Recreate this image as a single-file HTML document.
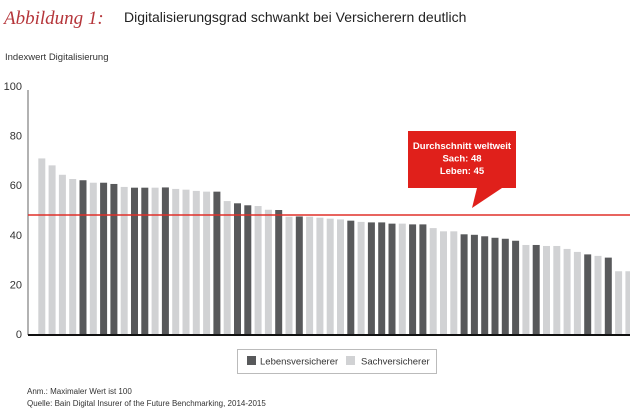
<!DOCTYPE html>
<html><head><meta charset="utf-8"><style>
body{margin:0;background:#fff;width:630px;height:412px;overflow:hidden}
svg{display:block;font-family:"Liberation Sans",sans-serif}
</style></head><body>
<svg id="chart" width="630" height="412">
<text x="4" y="24" font-family="Liberation Serif, serif" font-style="italic" font-size="19" fill="#b5353a">Abbildung 1:</text>
<text x="124" y="22" font-size="14" fill="#222">Digitalisierungsgrad schwankt bei Versicherern deutlich</text>
<text x="5" y="60" font-size="9.5" fill="#333">Indexwert Digitalisierung</text>
<g id="yaxis"></g>
<g id="bars"></g>
<line x1="28" y1="90" x2="28" y2="335" stroke="#999" stroke-width="1.5"/>
<line x1="28" y1="335" x2="630" y2="335" stroke="#111" stroke-width="2"/>
<g id="avg"></g>
<g>
<rect x="237.5" y="349.5" width="199" height="24" fill="#fff" stroke="#bbb"/>
<rect x="247" y="356" width="9" height="9" fill="#58595b"/>
<text x="260" y="364.5" font-size="9.5" fill="#333">Lebensversicherer</text>
<rect x="346" y="356" width="9" height="9" fill="#d1d2d4"/>
<text x="361" y="364.5" font-size="9.5" fill="#333">Sachversicherer</text>
</g>
<text x="27" y="394" font-size="8" fill="#333">Anm.: Maximaler Wert ist 100</text>
<text x="27" y="406" font-size="8" fill="#333">Quelle: Bain Digital Insurer of the Future Benchmarking, 2014-2015</text>
</svg>
<script>
const values=[70.8,68,64.2,62.5,62,61,61,60.5,59.3,59,59,59,59.1,58.5,58.2,57.7,57.4,57.4,53.6,52.7,51.9,51.6,50.1,50,47.3,47.4,47.3,46.9,46.5,46.2,45.7,45.2,45,45,44.5,44.5,44.2,44.2,42.7,41.4,41.4,40.2,40,39.4,38.8,38.4,37.6,35.9,35.9,35.5,35.5,34.3,33.1,32.1,31.5,30.8,25.3,25.3];
const types="SSSSLSLLSLLSLSSSSLSLLSSLSLSSSSLSLLLSLLSSSLLLLLLSLSSSSLSLSS";
const yTicks=[0,20,40,60,80,100];
const avgSach=48, avgLeben=45;
const NS="http://www.w3.org/2000/svg";
const y=v=>334-v*2.48;
const x=i=>38.3+i*10.3;
function mk(t,a,p){const e=document.createElementNS(NS,t);for(const k in a)e.setAttribute(k,a[k]);p.appendChild(e);return e;}
const ya=document.getElementById('yaxis');
yTicks.forEach(t=>{const e=mk('text',{x:22,y:y(t)+4,'font-size':11,fill:'#333','text-anchor':'end'},ya);e.textContent=t;

});
const bg=document.getElementById('bars');
values.forEach((v,i)=>{const r=mk('rect',{x:x(i),y:y(v),width:7,height:334-y(v),fill:types[i]==='L'?'#58595b':'#d1d2d4'},bg);

});
const ag=document.getElementById('avg');
const ln=mk('line',{x1:28,x2:630,y1:y(avgSach),y2:y(avgSach),stroke:'#e0302a','stroke-width':1.5},ag);


const cb=mk('path',{d:'M408 131 H516 V188 H502 L472 208 L477 188 H408 Z',fill:'#e0201b'},ag);


['Durchschnitt weltweit','Sach: '+avgSach,'Leben: '+avgLeben].forEach((s,k)=>{const t=mk('text',{x:462,y:149+k*12.5,'font-size':9.5,'font-weight':'bold',fill:'#fff','text-anchor':'middle'},ag);t.textContent=s;

});
</script>
</body></html>
